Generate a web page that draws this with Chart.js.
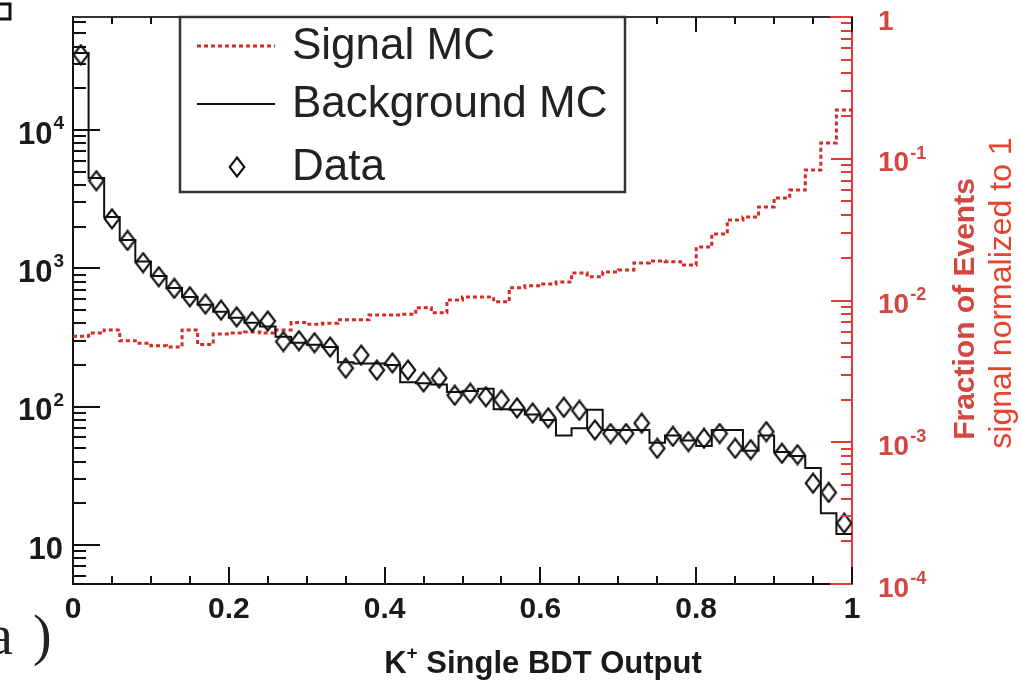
<!DOCTYPE html>
<html>
<head>
<meta charset="utf-8">
<script src="https://cdn.jsdelivr.net/npm/chart.js@4/dist/chart.umd.min.js"></script>
<style>
html,body{margin:0;padding:0;background:#fff;}
#wrap{width:1021px;height:685px;position:relative;}
</style>
</head>
<body>
<div id="wrap"><canvas id="c" width="1021" height="685"></canvas></div>
<script>
// ---- data ----
const binCenters = [0.01,0.03,0.05,0.07,0.09,0.11,0.13,0.15,0.17,0.19,
                    0.21,0.23,0.25,0.27,0.29,0.31,0.33,0.35,0.37,0.39,
                    0.41,0.43,0.45,0.47,0.49,0.51,0.53,0.55,0.57,0.59,
                    0.61,0.63,0.65,0.67,0.69,0.71,0.73,0.75,0.77,0.79,
                    0.81,0.83,0.85,0.87,0.89,0.91,0.93,0.95,0.97,0.99];
const binHalfWidth = 0.01;
const backgroundMC = [36000,4500,2350,1600,1120,880,720,620,545,485,
                      440,405,380,320,290,280,270,210,205,205,
                      200,150,148,145,128,130,135,96,95,88,
                      80,62,70,95,68,68,68,55,62,57,
                      52,68,68,48,62,47,44,36,17,12];
const dataCounts = [35000,4300,2280,1590,1100,870,716,623,552,499,
                    446,411,416,296,300,290,270,190,236,184,
                    207,184,151,161,121,125,118,112,98,90,
                    83,99,94,68,64,64,76,50,61,56,
                    59,64,50,49,66,46,45,28,24,14.4];
const signalMC = [0.0056,0.0059,0.0062,0.0052,0.0050,0.0048,0.0047,0.0062,0.0049,0.0058,
                  0.0059,0.0060,0.0059,0.0062,0.0070,0.0068,0.0069,0.0073,0.0073,0.0079,
                  0.0079,0.0080,0.0089,0.0082,0.0101,0.0106,0.0106,0.0098,0.0123,0.0127,
                  0.0131,0.0135,0.0156,0.0147,0.0159,0.0164,0.0184,0.0190,0.0188,0.0178,
                  0.0238,0.0294,0.0370,0.0388,0.0457,0.0529,0.0602,0.0833,0.129,0.221];
const xTickValues = [0,0.2,0.4,0.6,0.8,1];
const xTickLabels = ['0','0.2','0.4','0.6','0.8','1'];
const leftTickValues = [10,100,1000,10000];
const leftTickLabels = ['10','10^2','10^3','10^4'];
const rightTickValues = [1e-4,1e-3,1e-2,1e-1,1];
const rightTickLabels = ['10^-4','10^-3','10^-2','10^-1','1'];
const legendLabels = ['Signal MC','Background MC','Data'];
const xTitleBase = 'K', xTitleSup = '+', xTitleRest = ' Single BDT Output';
const rightTitle1 = 'Fraction of Events';
const rightTitle2 = 'signal normalized to 1';

// ---- styles ----
const FONT = "'Liberation Sans', Arial, Helvetica, sans-serif";
const RED_LINE = '#d42b27';
const RED_AXIS = '#e23a35';
const RED_TEXT = '#d2473f';
const RED_TEXT2 = '#e8412c';

function histPoints(vals){
  const pts = vals.map((v,i)=>({x: binCenters[i]-binHalfWidth, y: v}));
  pts.push({x: binCenters[vals.length-1]+binHalfWidth, y: vals[vals.length-1]});
  return pts;
}

// open diamond marker (taller than wide)
const diamond = document.createElement('canvas');
diamond.width = 18; diamond.height = 22;
(function(){
  const g = diamond.getContext('2d');
  g.strokeStyle = '#111'; g.lineWidth = 2.1;
  g.beginPath(); g.moveTo(9,1.5); g.lineTo(16.3,11); g.lineTo(9,20.5); g.lineTo(1.7,11); g.closePath(); g.stroke();
})();

function drawPow(ctx, label, x, y, align, baseSize, expSize, color){
  const parts = label.split('^');
  ctx.fillStyle = color;
  ctx.textBaseline = 'middle';
  ctx.font = 'bold '+baseSize+'px '+FONT;
  const bw = ctx.measureText(parts[0]).width;
  let ew = 0;
  if (parts[1]) { ctx.font = 'bold '+expSize+'px '+FONT; ew = ctx.measureText(parts[1]).width; }
  const x0 = align === 'right' ? x - bw - ew : x;
  ctx.textAlign = 'left';
  ctx.font = 'bold '+baseSize+'px '+FONT;
  ctx.fillText(parts[0], x0, y);
  if (parts[1]) { ctx.font = 'bold '+expSize+'px '+FONT; ctx.fillText(parts[1], x0 + bw + 1, y - baseSize*0.36); }
}

function logTicks(min, max){
  const out = [];
  for (let e = Math.floor(Math.log10(min)); e <= Math.ceil(Math.log10(max)); e++) {
    for (let m = 1; m <= 9; m++) {
      const v = m*Math.pow(10,e);
      if (v >= min*0.9999 && v <= max*1.0001) out.push({v, major: m===1});
    }
  }
  return out;
}

const decor = {
  id: 'decor',
  afterDraw(chart){
    const ctx = chart.ctx, ca = chart.chartArea;
    const sx = chart.scales.x, sy = chart.scales.y, sy2 = chart.scales.y2;
    ctx.save();
    // frame top
    ctx.strokeStyle = '#333'; ctx.lineWidth = 2;
    ctx.beginPath(); ctx.moveTo(ca.left, ca.top); ctx.lineTo(ca.right, ca.top); ctx.stroke();
    ctx.strokeStyle = RED_AXIS;
    ctx.beginPath(); ctx.moveTo(ca.right-22, ca.top); ctx.lineTo(ca.right, ca.top); ctx.stroke();
    ctx.beginPath(); ctx.moveTo(ca.right-22, ca.bottom); ctx.lineTo(ca.right, ca.bottom); ctx.stroke();
    // left ticks (inside)
    ctx.strokeStyle = '#111'; ctx.lineWidth = 2;
    logTicks(sy.min, sy.max).forEach(t=>{
      const y = Math.round(sy.getPixelForValue(t.v));
      ctx.beginPath(); ctx.moveTo(ca.left, y); ctx.lineTo(ca.left + (t.major?27:13), y); ctx.stroke();
    });
    // right ticks (inside, red)
    ctx.strokeStyle = RED_AXIS;
    logTicks(sy2.min, sy2.max).forEach(t=>{
      const y = Math.round(sy2.getPixelForValue(t.v));
      ctx.beginPath(); ctx.moveTo(ca.right, y); ctx.lineTo(ca.right - (t.major?21:11), y); ctx.stroke();
    });
    // x ticks bottom and top
    ctx.strokeStyle = '#111';
    for (let k = 0; k <= 20; k++) {
      const x = Math.round(sx.getPixelForValue(k*0.05));
      const major = k % 4 === 0;
      ctx.beginPath(); ctx.moveTo(x, ca.bottom); ctx.lineTo(x, ca.bottom - (major?17:8)); ctx.stroke();
      ctx.beginPath(); ctx.moveTo(x, ca.top); ctx.lineTo(x, ca.top + (major?15:7)); ctx.stroke();
    }
    // left tick labels
    leftTickValues.forEach((v,i)=>{
      drawPow(ctx, leftTickLabels[i], 63, sy.getPixelForValue(v)+5, 'right', 31, 19, '#1a1a1a');
    });
    // right tick labels
    rightTickValues.forEach((v,i)=>{
      drawPow(ctx, rightTickLabels[i], ca.right + 26, sy2.getPixelForValue(v)+5, 'left', 28, 18, RED_TEXT);
    });
    // x axis title
    ctx.fillStyle = '#1a1a1a'; ctx.textBaseline = 'alphabetic'; ctx.textAlign = 'left';
    ctx.font = 'bold 31px '+FONT;
    const wK = ctx.measureText(xTitleBase).width, wR = ctx.measureText(xTitleRest).width;
    ctx.font = 'bold 19px '+FONT;
    const wS = ctx.measureText(xTitleSup).width;
    const tx = 543 - (wK+wS+wR)/2, ty = 673;
    ctx.font = 'bold 31px '+FONT; ctx.fillText(xTitleBase, tx, ty);
    ctx.font = 'bold 19px '+FONT; ctx.fillText(xTitleSup, tx + wK, ty - 14);
    ctx.font = 'bold 31px '+FONT; ctx.fillText(xTitleRest, tx + wK + wS, ty);
    // right titles (rotated)
    ctx.save();
    ctx.translate(966, 309); ctx.rotate(-Math.PI/2);
    ctx.textAlign = 'center'; ctx.textBaseline = 'middle';
    ctx.fillStyle = RED_TEXT; ctx.font = 'bold 30px '+FONT;
    ctx.fillText(rightTitle1, 0, 0);
    ctx.restore();
    ctx.save();
    ctx.translate(1002, 293); ctx.rotate(-Math.PI/2);
    ctx.textAlign = 'center'; ctx.textBaseline = 'middle';
    ctx.fillStyle = RED_TEXT2; ctx.font = '32px '+FONT;
    ctx.fillText(rightTitle2, 0, 0);
    ctx.restore();
    // panel label fragments (cut off at the left edge)
    ctx.fillStyle = '#222'; ctx.font = "56px 'Liberation Serif', 'DejaVu Serif', serif";
    ctx.textAlign = 'left'; ctx.textBaseline = 'alphabetic';
    ctx.fillText('a', -12, 654);
    ctx.fillText(')', 33, 654);
    ctx.strokeStyle = '#111'; ctx.lineWidth = 3;
    ctx.strokeRect(-10, 4, 20, 15);
    // legend
    const L = {x0: 180, y0: 17, x1: 625, y1: 192};
    ctx.fillStyle = '#fff'; ctx.fillRect(L.x0, L.y0, L.x1-L.x0, L.y1-L.y0);
    ctx.strokeStyle = '#333'; ctx.lineWidth = 2.5;
    ctx.strokeRect(L.x0, L.y0, L.x1-L.x0, L.y1-L.y0);
    const ys = [46, 104, 167];
    ctx.lineWidth = 3; ctx.strokeStyle = RED_LINE; ctx.setLineDash([4,3]);
    ctx.beginPath(); ctx.moveTo(197, ys[0]); ctx.lineTo(275, ys[0]); ctx.stroke();
    ctx.setLineDash([]); ctx.strokeStyle = '#111'; ctx.lineWidth = 2;
    ctx.beginPath(); ctx.moveTo(197, ys[1]); ctx.lineTo(275, ys[1]); ctx.stroke();
    ctx.drawImage(diamond, 237 - diamond.width/2, ys[2] - diamond.height/2);
    ctx.fillStyle = '#222'; ctx.font = '44px '+FONT; ctx.textBaseline = 'middle'; ctx.textAlign = 'left';
    legendLabels.forEach((t,i)=> ctx.fillText(t, 292, ys[i]+1));
    ctx.restore();
  }
};

Chart.defaults.font.family = FONT;

new Chart(document.getElementById('c'), {
  data: {
    datasets: [
      { type: 'line', label: legendLabels[0], data: histPoints(signalMC), yAxisID: 'y2',
        stepped: true, borderColor: RED_LINE, borderWidth: 3, borderDash: [4,3],
        pointRadius: 0, fill: false, order: 3 },
      { type: 'line', label: legendLabels[1], data: histPoints(backgroundMC), yAxisID: 'y',
        stepped: true, borderColor: '#111', borderWidth: 2, pointRadius: 0, fill: false, order: 2 },
      { type: 'scatter', label: legendLabels[2], data: dataCounts.map((v,i)=>({x: binCenters[i], y: v})),
        yAxisID: 'y', pointStyle: diamond, pointRadius: 9, showLine: false, order: 1 }
    ]
  },
  options: {
    responsive: false, animation: false, devicePixelRatio: 1,
    layout: { padding: { top: 17, left: 0, right: 0, bottom: 0 } },
    plugins: { legend: { display: false }, tooltip: { enabled: false } },
    scales: {
      x: {
        type: 'linear', position: 'bottom', min: 0, max: 1,
        afterFit: s => { s.height = 101; },
        grid: { display: false, drawTicks: false },
        border: { display: true, color: '#111', width: 2 },
        afterBuildTicks: s => { s.ticks = xTickValues.map(v=>({value: v})); },
        ticks: {
          autoSkip: false, maxRotation: 0, padding: 8, color: '#1a1a1a',
          font: { size: 30, weight: 'bold' },
          callback: (v) => { const i = xTickValues.findIndex(t=>Math.abs(t-v)<1e-6); return i>=0 ? xTickLabels[i] : ''; }
        }
      },
      y: {
        type: 'logarithmic', position: 'left', min: 5.23, max: 65600,
        afterFit: s => { s.width = 73; },
        grid: { display: false, drawTicks: false },
        border: { display: true, color: '#111', width: 2 },
        ticks: { display: false }
      },
      y2: {
        type: 'logarithmic', position: 'right', min: 1e-4, max: 1,
        afterFit: s => { s.width = 169; },
        grid: { display: false, drawTicks: false },
        border: { display: true, color: RED_AXIS, width: 2 },
        ticks: { display: false }
      }
    }
  },
  plugins: [decor]
});
</script>
</body>
</html>
